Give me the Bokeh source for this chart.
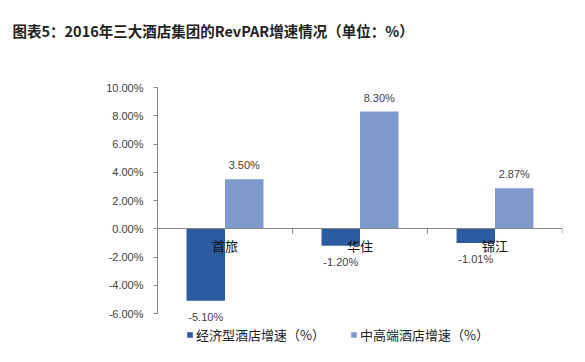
import numpy as np
from bokeh.plotting import figure
from bokeh.core.properties import value
from bokeh.models import (ColumnDataSource, Range1d, FixedTicker, PrintfTickFormatter,
                          LabelSet, Legend, LegendItem, Title)
from bokeh.embed import file_html
from bokeh.resources import INLINE

title_text = "图表5：2016年三大酒店集团的RevPAR增速情况（单位：%）"
categories = ["首旅", "华住", "锦江"]
series_names = ["经济型酒店增速（%）", "中高端酒店增速（%）"]
economy = [-5.10, -1.20, -1.01]
midhigh = [3.50, 8.30, 2.87]
y_ticks = [-6, -4, -2, 0, 2, 4, 6, 8, 10]

DARK = "#2C5C9F"
LIGHT = "#7E99CC"
CJK = "Noto Sans CJK SC"
NUM = "Liberation Sans"

W, H = 585, 362
TOP, BOTTOM, LEFT, RIGHT = 87, 14, 157, 23
AXIS_BOTTOM_PX = 313  # pixel row of the lowest tick
px_per_unit = (AXIS_BOTTOM_PX - TOP) / (y_ticks[-1] - y_ticks[0])
y_start = y_ticks[-1] - (H - BOTTOM - TOP) / px_per_unit

idx = np.arange(len(categories)) + 0.5
bw = 0.285

p = figure(width=W, height=H, output_backend="svg", toolbar_location=None, title=None,
           x_range=Range1d(0, len(categories)), y_range=Range1d(y_start, y_ticks[-1]),
           min_border_left=LEFT, min_border_right=RIGHT, min_border_top=TOP,
           min_border_bottom=BOTTOM)
p.outline_line_color = None
p.xgrid.visible = False
p.ygrid.visible = False
p.background_fill_color = "white"
p.border_fill_color = "white"

src_e = ColumnDataSource(dict(x=idx - bw / 2, top=economy,
                              lab=["%.2f%%" % v for v in economy]))
src_m = ColumnDataSource(dict(x=idx + bw / 2, top=midhigh,
                              lab=["%.2f%%" % v for v in midhigh]))
src_c = ColumnDataSource(dict(x=idx, y=[0] * len(categories), lab=categories))

r_e = p.vbar(x="x", top="top", bottom=0, width=bw, source=src_e,
             fill_color=DARK, line_color=None)
r_m = p.vbar(x="x", top="top", bottom=0, width=bw, source=src_m,
             fill_color=LIGHT, line_color=None)

# y axis
ya = p.yaxis[0]
ya.ticker = FixedTicker(ticks=y_ticks)
ya.bounds = (y_ticks[0], y_ticks[-1])
ya.formatter = PrintfTickFormatter(format="%.2f%%")
ya.axis_line_color = "#868686"
ya.major_tick_line_color = "#868686"
ya.major_tick_in = 0
ya.major_tick_out = 4
ya.minor_tick_line_color = None
ya.major_label_standoff = 10
ya.major_label_text_font = NUM
ya.major_label_text_font_size = "11px"
ya.major_label_text_color = "#404040"

# x axis at zero
xa = p.xaxis[0]
xa.fixed_location = 0
xticks = list(range(len(categories) + 1))
xa.ticker = FixedTicker(ticks=xticks)
xa.major_label_overrides = {t: "" for t in xticks}
xa.axis_line_color = "#868686"
xa.major_tick_line_color = "#868686"
xa.major_tick_in = 0
xa.major_tick_out = 5
xa.minor_tick_line_color = None
xa.major_label_standoff = 0

# value labels
p.add_layout(LabelSet(x="x", y="top", text="lab", source=src_e, y_offset=-16,
                      text_align="center", text_baseline="middle",
                      text_font=value(NUM), text_font_size=value("11px"),
                      text_color="#404040"))
p.add_layout(LabelSet(x="x", y="top", text="lab", source=src_m, y_offset=14,
                      text_align="center", text_baseline="middle",
                      text_font=value(NUM), text_font_size=value("11px"),
                      text_color="#404040"))
# category labels
p.add_layout(LabelSet(x="x", y="y", text="lab", source=src_c, y_offset=-17,
                      text_align="center", text_baseline="middle",
                      text_font=value(CJK), text_font_size=value("13px"),
                      text_color="#111111"))

# spacer between frame and title, then the title itself (stacked outward)
p.add_layout(Title(text=" ", text_font_size="10px", standoff=32), "above")
p.add_layout(Title(text=title_text, align="left", offset=-(LEFT - 12), standoff=4,
                   text_font=CJK, text_font_size="14.5px", text_font_style="bold",
                   text_color="#222222"), "above")

legend = Legend(items=[LegendItem(label=series_names[0], renderers=[r_e]),
                       LegendItem(label=series_names[1], renderers=[r_m])],
                orientation="horizontal", location=(29, 4),
                glyph_width=7, glyph_height=7, label_standoff=3, spacing=25,
                padding=0, margin=0, border_line_color=None, background_fill_alpha=0,
                label_text_font=CJK, label_text_font_size="13px", label_text_color="#222222",
                label_height=14)
p.add_layout(legend, "center")

open("out.html", "w").write(file_html(p, INLINE))
